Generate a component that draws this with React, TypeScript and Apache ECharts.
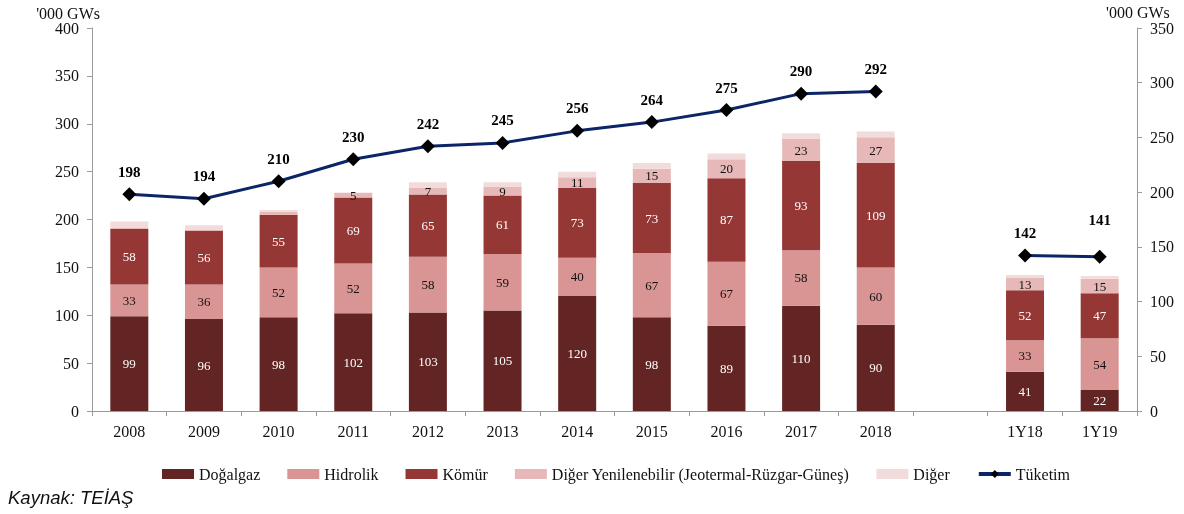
import React, { useEffect, useRef } from "react";
import * as echarts from "echarts";

const categories = ["2008", "2009", "2010", "2011", "2012", "2013", "2014", "2015", "2016", "2017", "2018", "", "1Y18", "1Y19"];
const dogalgaz = [99, 96, 98, 102, 103, 105, 120, 98, 89, 110, 90, null, 41, 22];
const hidrolik = [33, 36, 52, 52, 58, 59, 40, 67, 67, 58, 60, null, 33, 54];
const komur = [58, 56, 55, 69, 65, 61, 73, 73, 87, 93, 109, null, 52, 47];
const digerYenilenebilir = [1, 1, 3, 5, 7, 9, 11, 15, 20, 23, 27, null, 13, 15];
const diger = [7, 5, 2, 0, 6, 5, 6, 6, 6, 6, 6, null, 3, 3];
const tuketim = [198, 194, 210, 230, 242, 245, 256, 264, 275, 290, 292, null, 142, 141];

const leftAxis = { min: 0, max: 400, interval: 50 };
const rightAxis = { min: 0, max: 350, interval: 50 };
const unitLabel = "'000 GWs";
const sourceText = "Kaynak: TEİAŞ";

const SERIF = "'Liberation Serif', 'Times New Roman', serif";
const AXIS_COLOR = "#9a9a9a";

export default function App() {
  const ref = useRef<HTMLDivElement>(null);
  useEffect(() => {
    if (!ref.current) return;
    const chart = echarts.init(ref.current, null, { renderer: "svg" });
    const barLabel = (color: string, minShow: number) => ({
      show: true,
      position: "inside",
      color,
      fontFamily: SERIF,
      fontSize: 13,
      formatter: (p: any) => (p.value != null && p.value >= minShow ? String(p.value) : ""),
    });
    const bar = (name: string, data: any[], color: string, label: any) => ({
      name,
      type: "bar",
      stack: "total",
      barWidth: 38,
      data,
      itemStyle: { color },
      label,
      emphasis: { disabled: true },
    });
    const lineData = tuketim.map((v, i) =>
      categories[i] === "1Y19" ? { value: v, label: { distance: 22 } } : v
    );
    chart.setOption({
      animation: false,
      textStyle: { fontFamily: SERIF },
      grid: { left: 92, right: 47, top: 28, bottom: 103, containLabel: false },
      legend: {
        left: 157,
        top: 461,
        itemWidth: 32,
        itemHeight: 10,
        itemGap: 27,
        textStyle: { fontFamily: SERIF, fontSize: 16, color: "#111" },
        data: [
          { name: "Doğalgaz", icon: "rect" },
          { name: "Hidrolik", icon: "rect" },
          { name: "Kömür", icon: "rect" },
          { name: "Diğer Yenilenebilir (Jeotermal-Rüzgar-Güneş)", icon: "rect" },
          { name: "Diğer", icon: "rect" },
          { name: "Tüketim", lineStyle: { width: 4, color: "#0b2566" } },
        ],
      },
      xAxis: {
        type: "category",
        data: categories,
        axisLine: { lineStyle: { color: AXIS_COLOR, width: 1 } },
        axisTick: { show: true, alignWithLabel: false, interval: 0, length: 5, lineStyle: { color: AXIS_COLOR } },
        axisLabel: { interval: 0, margin: 12, fontSize: 16, color: "#111", fontFamily: SERIF },
      },
      yAxis: [
        {
          type: "value",
          min: leftAxis.min,
          max: leftAxis.max,
          interval: leftAxis.interval,
          position: "left",
          splitLine: { show: false },
          axisLine: { show: true, lineStyle: { color: AXIS_COLOR } },
          axisTick: { show: true, length: 5, lineStyle: { color: AXIS_COLOR } },
          axisLabel: { margin: 13, fontSize: 16, color: "#111", fontFamily: SERIF },
        },
        {
          type: "value",
          min: rightAxis.min,
          max: rightAxis.max,
          interval: rightAxis.interval,
          position: "right",
          splitLine: { show: false },
          axisLine: { show: true, lineStyle: { color: AXIS_COLOR } },
          axisTick: { show: true, length: 5, lineStyle: { color: AXIS_COLOR } },
          axisLabel: { margin: 13, fontSize: 16, color: "#111", fontFamily: SERIF },
        },
      ],
      series: [
        bar("Doğalgaz", dogalgaz, "#632523", barLabel("#ffffff", 0)),
        bar("Hidrolik", hidrolik, "#d99594", barLabel("#111111", 0)),
        bar("Kömür", komur, "#953735", barLabel("#ffffff", 0)),
        bar("Diğer Yenilenebilir (Jeotermal-Rüzgar-Güneş)", digerYenilenebilir, "#e6b9b8", barLabel("#111111", 5)),
        bar("Diğer", diger, "#f2dcdb", { show: false }),
        {
          name: "Tüketim",
          type: "line",
          yAxisIndex: 1,
          data: lineData,
          connectNulls: false,
          symbol: "diamond",
          symbolSize: 14,
          z: 5,
          lineStyle: { color: "#0b2566", width: 3 },
          itemStyle: { color: "#000000" },
          label: {
            show: true,
            position: "top",
            distance: 8,
            fontFamily: SERIF,
            fontSize: 15,
            fontWeight: "bold",
            color: "#000",
          },
          emphasis: { disabled: true },
        },
      ],
      graphic: [
        {
          type: "text",
          x: 100,
          y: 13,
          style: { text: unitLabel, font: `16px ${SERIF}`, fill: "#111", align: "right", verticalAlign: "middle" },
        },
        {
          type: "text",
          x: 1106,
          y: 12,
          style: { text: unitLabel, font: `16px ${SERIF}`, fill: "#111", align: "left", verticalAlign: "middle" },
        },
        {
          type: "text",
          x: 8,
          y: 497,
          style: {
            text: sourceText,
            font: "italic 18.5px 'Liberation Sans', Arial, sans-serif",
            fill: "#111",
            align: "left",
            verticalAlign: "middle",
          },
        },
      ],
    });
    return () => chart.dispose();
  }, []);
  return <div ref={ref} style={{ position: "fixed", left: 0, top: 0, width: 1184, height: 514 }} />;
}
